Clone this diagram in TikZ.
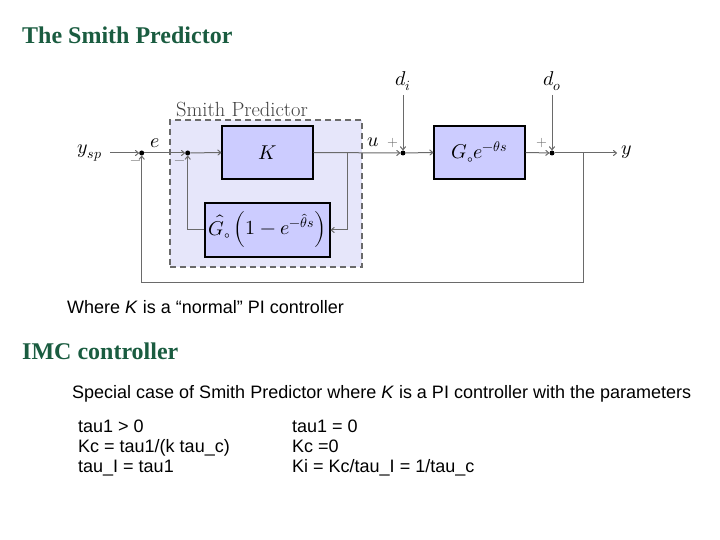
\documentclass[tikz,border=0pt]{standalone}
\usepackage{fontspec}
\setmainfont{Liberation Serif}
\setsansfont{Liberation Sans}
\usepackage{unicode-math}
\setmathfont{Latin Modern Math}
\newfontfamily\lmfont{Latin Modern Roman}
\usetikzlibrary{arrows.meta}
\definecolor{titlegreen}{HTML}{1A5C40}
\definecolor{blockfill}{HTML}{CCCCFF}
\definecolor{smithfill}{HTML}{E6E6FA}
\definecolor{wire}{HTML}{6A6A6A}
\tikzset{
  blk/.style={draw=black, line width=1.3pt, fill=blockfill, inner sep=0pt, font=\fontsize{20}{24}\selectfont},
  wirestyle/.style={draw=wire, line width=1pt},
  arr/.style={wirestyle, -{To[length=4pt,width=6pt]}},
  dotn/.style={circle, fill=black, inner sep=0pt, minimum size=5pt},
  lbl/.style={font=\fontsize{20}{24}\selectfont, inner sep=0pt},
  sgn/.style={font=\fontsize{14}{16}\selectfont, text=wire, inner sep=0pt},
  body/.style={font=\sffamily\fontsize{18}{21}\selectfont, anchor=base west, inner sep=0pt},
  head/.style={font=\bfseries\fontsize{24}{28}\selectfont, text=titlegreen, anchor=west, inner sep=0pt}
}
\begin{document}
\begin{tikzpicture}[x=1pt,y=-1pt]
\useasboundingbox (0,0) rectangle (720,540);
% Smith predictor region
\node[draw=wire, dash pattern=on 6pt off 4pt, line width=1.2pt, fill=smithfill, minimum width=192pt, minimum height=147pt, inner sep=0pt] (sp) at (266,193.5) {};
\node[lbl, font=\lmfont\fontsize{20.5}{24}\selectfont, text=black!75] (splbl) at (242,110) {Smith Predictor};
% blocks
\node[blk, minimum width=91pt, minimum height=53pt] (K) at (267.5,152.5) {$K$};
\node[blk, minimum width=125pt, minimum height=54pt] (F) at (267.5,230) {$\hat{G}_{\circ}\left(1-e^{-\hat{\theta}s}\right)$};
\node[blk, minimum width=91pt, minimum height=53pt] (G) at (479.5,152.5) {$G_{\circ}e^{-\theta s}$};
% junctions
\node[dotn] (s1) at (141.7,153) {};
\node[dotn] (s2) at (187.7,153) {};
\node[dotn] (s3) at (403,153) {};
\node[dotn] (s4) at (552,153) {};
% labels
\node[lbl] (ysp) at (90,153) {$y_{sp}$};
\node[lbl] (e) at (155,143) {$e$};
\node[lbl] (u) at (373,142) {$u$};
\node[lbl] (di) at (403,81) {$d_i$};
\node[lbl] (do) at (552,81) {$d_o$};
\node[lbl, anchor=west] (y) at (621,152) {$y$};
\node[sgn] (m1) at (136,163) {$-$};
\node[sgn] (m2) at (180,163) {$-$};
\node[sgn] (p1) at (393,143) {$+$};
\node[sgn] (p2) at (542,143) {$+$};
% coordinates
\coordinate (yspe) at (110,153);
\coordinate (br) at (347,153);
\coordinate (fb) at (583,153);
\coordinate (ye) at (617,153);
\coordinate (dis) at (403,95);
\coordinate (dos) at (552,95);
% wires
\draw[arr] (yspe) -- (s1);
\draw[arr] (s1) -- (s2);
\draw[arr] (s2) -- (K.west);
\draw[arr] (K.east) -- (s3);
\draw[arr] (br) |- (F.east);
\draw[arr] (F.west) -| (s2);
\draw[arr] (s3) -- (G.west);
\draw[arr] (G.east) -- (s4);
\draw[arr] (s4) -- (ye);
\draw[arr] (dis) -- (s3);
\draw[arr] (dos) -- (s4);
\draw[arr] (fb) -- (583,282) -| (s1);
% texts
\node[head] (title) at (22,35) {The Smith Predictor};
\node[body] (where) at (67,313.5) {Where \textit{K} is a “normal” PI controller};
\node[head] (imc) at (22,351) {IMC controller};
\node[body] (spec) at (72,398.5) {Special case of Smith Predictor where \textit{K} is a PI controller with the parameters};
\node[body] (a1) at (78,432.5) {tau1 > 0};
\node[body] (a2) at (78,452.5) {Kc = tau1/(k tau\_c)};
\node[body] (a3) at (78,472.5) {tau\_I = tau1};
\node[body] (b1) at (292,432.5) {tau1 = 0};
\node[body] (b2) at (292,452.5) {Kc =0};
\node[body] (b3) at (292,472.5) {Ki = Kc/tau\_I = 1/tau\_c};
\end{tikzpicture}
\end{document}
